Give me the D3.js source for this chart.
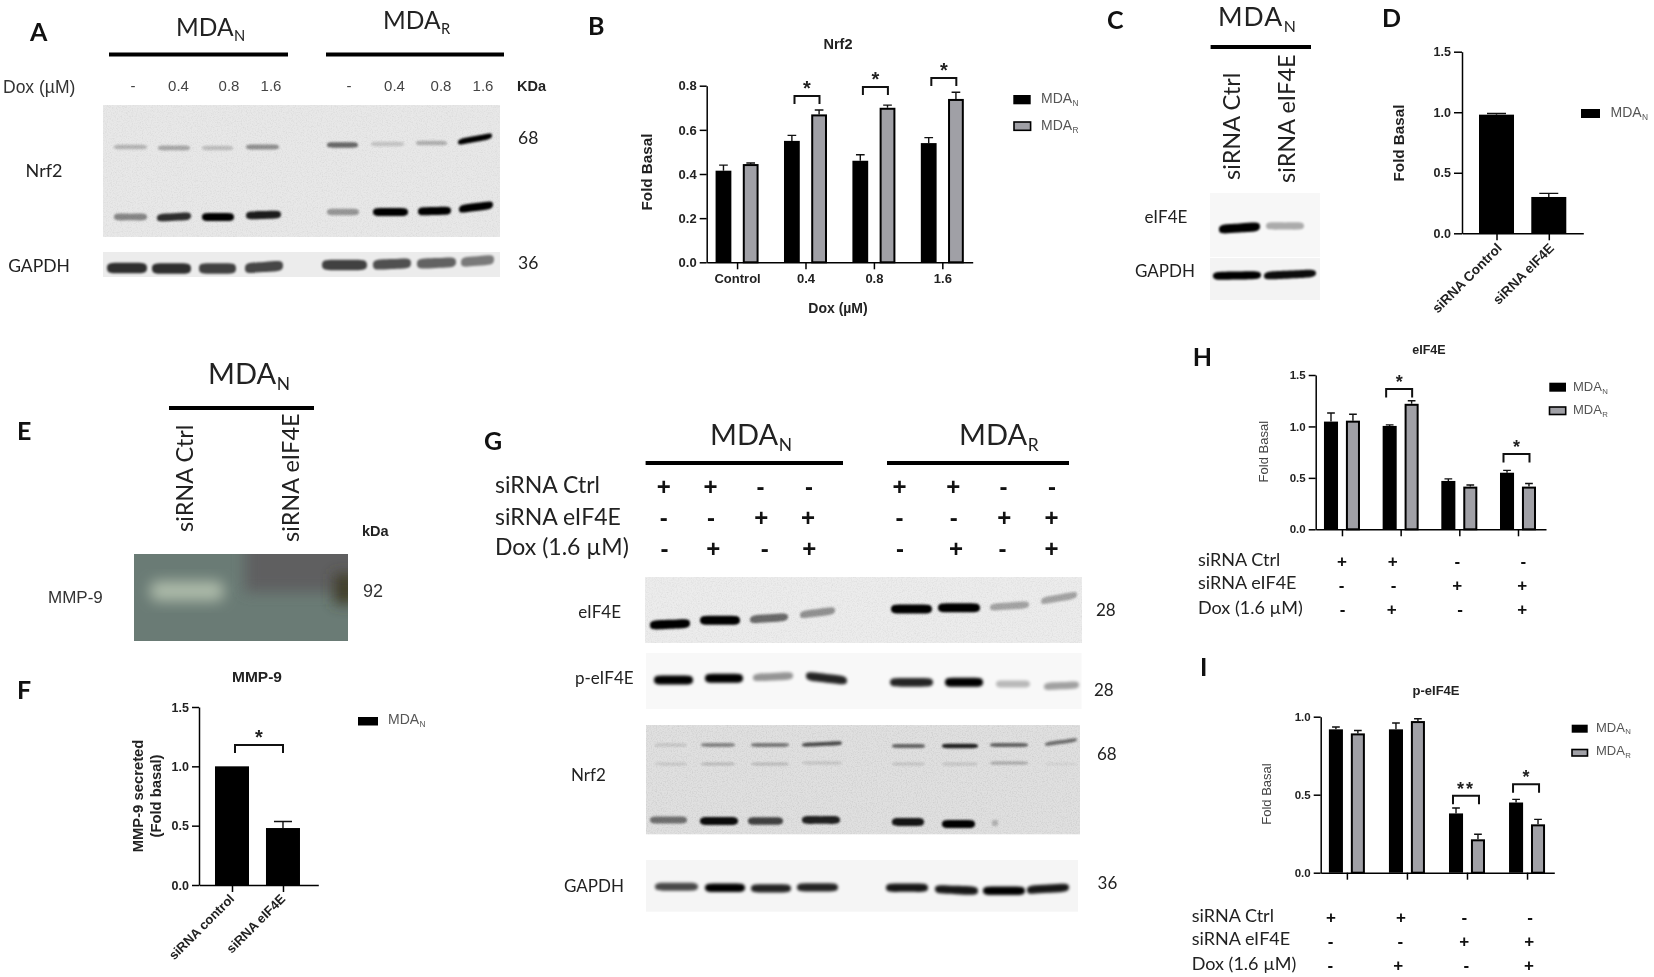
<!DOCTYPE html>
<html><head><meta charset="utf-8">
<script src="https://cdn.jsdelivr.net/npm/d3@7/dist/d3.min.js"></script>
<style>
html,body{margin:0;padding:0;background:#fff}
svg{display:block;filter:blur(0.35px)}
</style></head><body>
<svg id="fig" width="1654" height="977"></svg>
<script>
// ---------- DATA: bar charts (value, upper error limit) ----------
const nrf2Cats = ["Control","0.4","0.8","1.6"];
const nrf2N = [0.415,0.55,0.46,0.54];
const nrf2NErr = [0.44,0.575,0.487,0.565];
const nrf2R = [0.445,0.67,0.70,0.74];
const nrf2RErr = [0.45,0.69,0.712,0.77];
const nrf2Sig = [null,"*","*","*"];
const nrf2SigY = [null,0.753,0.794,0.835];

const eifCats = ["siRNA Control","siRNA eIF4E"];
const eifVals = [0.98,0.30];
const eifErr = [0.99,0.33];

const mmpCats = ["siRNA control","siRNA eIF4E"];
const mmpVals = [1.0,0.48];
const mmpErr = [1.0,0.535];
const mmpSigY = 1.18;

const comboCats = ["g1","g2","g3","g4"];
const hN = [1.047,1.005,0.47,0.55];
const hNErr = [1.13,1.015,0.49,0.573];
const hR = [1.056,1.22,0.415,0.415];
const hRErr = [1.118,1.25,0.43,0.445];
const hSig = [null,"*",null,"*"];
const hSigY = [null,1.363,null,0.732];

const iN = [0.919,0.919,0.38,0.45];
const iNErr = [0.934,0.96,0.415,0.47];
const iR = [0.893,0.972,0.214,0.31];
const iRErr = [0.912,0.987,0.246,0.342];
const iSig = [null,null,"**","*"];
const iSigY = [null,null,0.493,0.567];

// ---------- DATA: treatment tables ----------
const tableLabels = ["siRNA Ctrl","siRNA eIF4E","Dox (1.6 µM)"];
const tableSigns4 = [["+","+","-","-"],["-","-","+","+"],["-","+","-","+"]];
const tableSigns8 = [["+","+","-","-","+","+","-","-"],["-","-","+","+","-","-","+","+"],["-","+","-","+","-","+","-","+"]];
const doseLabels = ["-","0.4","0.8","1.6","-","0.4","0.8","1.6"];

// ---------- DATA: blot band intensities (0-1) per lane ----------
const aNrf2Upper = [0.22,0.28,0.18,0.38,0.55,0.15,0.24,1];
const aNrf2Lower = [0.42,0.8,1,0.88,0.35,1,1,1];
const aGapdh = [0.8,0.8,0.72,0.7,0.72,0.66,0.58,0.48];
const cEif = [1,0.3];
const cGapdh = [1,0.95];
const gEif = [1,1,0.55,0.38,1,1,0.3,0.3];
const gPEif = [1,1,0.4,0.85,0.85,1,0.25,0.35];
const gNrf2Upper = [0.12,0.4,0.45,0.65,0.55,0.85,0.55,0.5];
const gNrf2Mid = [0.1,0.16,0.16,0.12,0.12,0.12,0.25,0.06];
const gNrf2Lower = [0.5,0.95,0.7,0.85,0.9,1,0.2,0];
const gGapdh = [0.7,1,0.85,0.85,0.9,0.9,1,0.9];

// ---------- LAYOUT ----------
const LATO = "Lato, 'Open Sans', sans-serif";
const ARIAL = "'Liberation Sans', Arial, sans-serif";
const BLACK = "#000", GREY = "#a0a0a6";

const svg = d3.select("#fig");
const defs = svg.append("defs");
const blur = (id,s)=>defs.append("filter").attr("id",id).attr("x","-30%").attr("y","-150%").attr("width","160%").attr("height","400%")
  .append("feGaussianBlur").attr("stdDeviation",s);
blur("b1",1.1); blur("b2",1.7);
const bigB = defs.append("filter").attr("id","b6").attr("x","-60%").attr("y","-60%").attr("width","220%").attr("height","220%");
bigB.append("feGaussianBlur").attr("stdDeviation",7);
function noiseFilter(id,alpha){
  const f = defs.append("filter").attr("id",id).attr("x","0").attr("y","0").attr("width","100%").attr("height","100%");
  f.append("feTurbulence").attr("type","fractalNoise").attr("baseFrequency",0.8).attr("numOctaves",2).attr("seed",4).attr("result","n");
  f.append("feColorMatrix").attr("in","n").attr("type","matrix")
   .attr("values",`0 0 0 0 0.4  0 0 0 0 0.4  0 0 0 0 0.4  ${alpha} 0 0 0 ${-alpha*0.42}`).attr("result","g");
  f.append("feGaussianBlur").attr("in","g").attr("stdDeviation",0.6).attr("result","gb");
  f.append("feComposite").attr("in","gb").attr("in2","SourceGraphic").attr("operator","in").attr("result","c");
  const m=f.append("feMerge"); m.append("feMergeNode").attr("in","SourceGraphic"); m.append("feMergeNode").attr("in","c");
}
noiseFilter("noise",0.55); noiseFilter("noiseStrong",0.8);

function label(x,y,t,o={}){
  return svg.append("text").attr("x",x).attr("y",y).text(t)
    .attr("font-family",o.font||LATO).attr("font-size",o.size||18).attr("font-weight",o.weight||400)
    .attr("fill",o.fill||"#222").attr("text-anchor",o.anchor||"start");
}
function panelLetter(x,y,t){ label(x,y,t,{size:25,weight:700,fill:"#111"}); }
function subText(x,y,main,sub,size,o={}){
  const t = label(x,y,main,Object.assign({size},o));
  t.append("tspan").attr("dy",size*0.2).attr("dx",size*0.02).attr("font-size",size*0.6).text(sub);
  return t;
}
function rule(x0,x1,y){ svg.append("rect").attr("x",x0).attr("y",y-2).attr("width",x1-x0).attr("height",4).attr("fill","#000"); }
function vtext(x,y,t,size){ label(0,0,t,{size,fill:"#222"}).attr("transform",`translate(${x},${y}) rotate(-90)`); }

// ---------- blots ----------
function blotBg(x0,x1,y0,y1,fill,noise){
  const r = svg.append("rect").attr("x",x0).attr("y",y0).attr("width",x1-x0).attr("height",y1-y0).attr("fill",fill);
  if(noise) r.attr("filter",`url(#${noise})`);
}
// lanes: [start,end] per lane; ys: y per lane; tilt: rise per lane
function bandPath(a,b,y,h,t){
  const w=b-a, m=(a+b)/2, yl=y+t/2, yr=y-t/2;
  return `M${a},${yl}C${a},${yl-h*0.6} ${a+w*0.12},${y-h/2+t*0.3} ${m},${y-h/2}`
    +`C${b-w*0.12},${y-h/2-t*0.3} ${b},${yr-h*0.6} ${b},${yr}`
    +`C${b},${yr+h*0.6} ${b-w*0.12},${y+h/2-t*0.3} ${m},${y+h/2}`
    +`C${a+w*0.12},${y+h/2+t*0.3} ${a},${yl+h*0.6} ${a},${yl}Z`;
}
function bands(values,lanes,ys,th,tilts,filter){
  svg.append("g").selectAll("path").data(values.map((v,i)=>({v,i})).filter(d=>d.v>0)).join("path")
    .attr("d",d=>bandPath(lanes[d.i][0],lanes[d.i][1],ys[d.i],th*(0.55+0.45*Math.sqrt(d.v)),tilts?tilts[d.i]:0))
    .attr("fill","#000")
    .attr("opacity",d=>d.v)
    .attr("filter",`url(#${filter||"b1"})`);
}

// ---------- bar charts ----------
function barChart(c){
  const g = svg.append("g");
  const x = d3.scalePoint().domain(c.cats).range([c.x0,c.x1]).padding(c.pad).align(c.align===undefined?0.5:c.align);
  const y = d3.scaleLinear().domain([0,c.yMax]).range([c.y0,c.yTop]);
  const off = d3.scaleBand().domain(d3.range(c.series.length)).range(c.series.length>1?[-c.spread,c.spread]:[-c.bw/2,c.bw/2]).paddingInner(c.series.length>1?c.inner:0);
  c.series.forEach((s,si)=>{
    const bw = off.bandwidth();
    const cx = d=>x(d.c)+off(si)+bw/2;
    const rows = c.cats.map((cat,i)=>({c:cat,v:s.vals[i],e:s.err[i]}));
    const sw = s.fill===BLACK?0:2;
    g.append("g").selectAll("rect").data(rows).join("rect")
      .attr("x",d=>x(d.c)+off(si)+sw/2).attr("width",bw-sw)
      .attr("y",d=>y(d.v)+sw/2).attr("height",d=>y(0)-y(d.v)-sw/2)
      .attr("fill",s.fill).attr("stroke",sw?"#000":"none").attr("stroke-width",sw);
    const capW = Math.min(bw*0.55,c.capMax||99);
    const errs = rows.filter(d=>d.e>d.v);
    g.append("g").selectAll("path").data(errs).join("path")
      .attr("d",d=>`M${cx(d)},${y(d.v)}V${y(d.e)}M${cx(d)-capW/2},${y(d.e)}H${cx(d)+capW/2}`)
      .attr("fill","none").attr("stroke","#111").attr("stroke-width",1.4);
  });
  const ax = g.append("g").attr("transform",`translate(0,${c.y0})`)
    .call(d3.axisBottom(x).tickSize(7).tickSizeOuter(0).tickPadding(c.xPad||6).tickFormat(c.hideX?"":(d=>d)));
  const ay = g.append("g").attr("transform",`translate(${c.x0},0)`)
    .call(d3.axisLeft(y).tickValues(c.ticks).tickSize(c.tickLen||7).tickSizeOuter(0).tickPadding(3).tickFormat(d3.format(".1f")));
  [ax,ay].forEach(a=>{
    a.selectAll("path,line").attr("stroke","#000").attr("stroke-width",1.5);
    a.selectAll("text").attr("font-family",ARIAL).attr("font-weight",700).attr("fill","#222").attr("font-size",c.tickSize);
  });
  if(c.rotate) ax.selectAll("text").attr("text-anchor","end").attr("dy",null).attr("dx",null)
    .attr("transform",`translate(${c.rotDx},${c.rotDy}) rotate(-45)`).attr("y",8).attr("x",0).attr("font-size",c.catSize);
  if(c.title) label(c.titleX,c.titleY,c.title,{font:ARIAL,weight:700,size:c.titleSize,anchor:"middle",fill:"#222"});
  (c.yLabel||[]).forEach((t,i)=>{
    label(0,0,t,{font:ARIAL,weight:c.yWeight||700,size:c.ySize,anchor:"middle",fill:c.yWeight===400?"#444":"#222"})
      .attr("transform",`translate(${c.yLabelX[i]},${c.yLabelY}) rotate(-90)`);
  });
  (c.sig||[]).forEach((s,i)=>{
    if(!s) return;
    const cat=c.sigCat?c.sigCat[i]:c.cats[i];
    const top=y(c.sigY[i]);
    const a=x(cat)+c.sigA, b=x(cat)+c.sigB;
    g.append("path").attr("d",`M${a},${top+c.sigDrop}V${top}H${b}V${top+c.sigDrop}`)
      .attr("fill","none").attr("stroke","#111").attr("stroke-width",2);
    const tx=label((a+b)/2,top-1,s,{font:ARIAL,weight:700,size:c.starSize||20,anchor:"middle",fill:"#222"});
    if(s.length>1) tx.attr("letter-spacing",2);
  });
  (c.legend||[]).forEach(l=>{
    g.append("rect").attr("x",l.x).attr("y",l.y).attr("width",l.w).attr("height",l.h)
      .attr("fill",l.fill).attr("stroke","#000").attr("stroke-width",l.fill===BLACK?0:1.6);
    subText(l.tx,l.ty,"MDA",l.sub,l.size,{font:ARIAL,fill:"#555"});
  });
}

// ---------- sign tables ----------
function signTable(labels,signs,labelX,labelYs,rowYs,colX,labelSize,signSize){
  labels.forEach((t,i)=>label(labelX,labelYs[i],t,{size:labelSize,fill:"#222"}));
  signs.forEach((row,r)=>{
    svg.append("g").selectAll("text").data(row).join("text")
      .attr("x",(d,i)=>colX[r][i]).attr("y",rowYs[r]).attr("dy","0.36em").attr("text-anchor","middle")
      .attr("font-family",ARIAL).attr("font-weight",700).attr("font-size",signSize).attr("fill","#111")
      .text(d=>d);
  });
}

// ===== Panel A =====
panelLetter(30,41,"A");
subText(176,36,"MDA","N",24.5,{fill:"#222"});
subText(383,29,"MDA","R",24.5,{fill:"#222"});
rule(109,288,54.5); rule(326,504,54.5);
label(3,93,"Dox (µM)",{font:ARIAL,size:17.5,fill:"#333"});
const aDoseX=[133,178.5,229,271,349,394.5,441,483];
svg.append("g").selectAll("text").data(doseLabels).join("text")
  .attr("x",(d,i)=>aDoseX[i]).attr("y",91).attr("text-anchor","middle").attr("font-family",ARIAL)
  .attr("font-size",15).attr("fill","#444").text(d=>d);
label(517,91,"KDa",{font:ARIAL,weight:700,size:14.5,fill:"#222"});
blotBg(103,500,105,237,"#e8e8e8","noise");
const aUpLanes=[[114,147],[158,190],[202,233],[246,279],[327,358],[371,404],[416,447],[458,492]];
const aLoLanes=[[114,147],[157,191],[202,234],[246,281],[327,359],[373,408],[418,451],[459,493]];
bands(aNrf2Upper,aUpLanes,[147,148,148,147,145,144,143,139],6,[0,0,0,0,0,0,0,7]);
bands(aNrf2Lower,aLoLanes,[217,217,217,215,212,212,211,207],8,[0,2,0,1,0,0,1,5]);
blotBg(103,500,252,277,"#ececec");
bands(aGapdh,[[107,147],[152,191],[199,236],[245,283],[322,367],[373,411],[417,456],[461,494]],[268,268.5,268.5,267,265,264,263,261],11,[0,0,0,3,0,2,2,3],"b1");
label(44,177,"Nrf2",{size:18,anchor:"middle"});
label(39,272,"GAPDH",{size:17.5,anchor:"middle"});
label(518,144,"68",{size:17.5}); label(518,269,"36",{size:17.5});

// ===== Panel B =====
panelLetter(588,35,"B");
barChart({cats:nrf2Cats,x0:706.7,x1:972.7,y0:262.3,yTop:85.7,yMax:0.8,ticks:[0,0.2,0.4,0.6,0.8],pad:0.444,
  spread:21.5,inner:0.42,bw:17,
  series:[{vals:nrf2N,err:nrf2NErr,fill:BLACK},{vals:nrf2R,err:nrf2RErr,fill:GREY}],
  tickSize:13,xPad:4,title:"Nrf2",titleX:838,titleY:49,titleSize:14.5,
  yLabel:["Fold Basal"],yLabelX:[652],yLabelY:172,ySize:15.2,
  sig:nrf2Sig,sigY:nrf2SigY,sigA:-11,sigB:14,sigDrop:8,
  legend:[{x:1013.3,y:95,w:17.4,h:9.3,fill:BLACK,tx:1041,ty:102.7,sub:"N",size:14},
          {x:1014,y:122,w:16.6,h:8.3,fill:GREY,tx:1041,ty:130,sub:"R",size:14}]});
label(838,313,"Dox (µM)",{font:ARIAL,weight:700,size:14,anchor:"middle"});

// ===== Panel C =====
panelLetter(1107,29,"C");
subText(1218,26.3,"MDA","N",26.5).attr("letter-spacing",1);
rule(1210.6,1311,47);
vtext(1239.6,180,"siRNA Ctrl",23.5);
vtext(1295.4,183,"siRNA eIF4E",23.5);
blotBg(1210,1320,193,257,"#f7f7f7");
bands(cEif,[[1219,1260],[1266,1304]],[228,226],9,[3,0],"b1");
blotBg(1210,1320,258,300,"#f3f3f3");
bands(cGapdh,[[1213,1261],[1264,1316]],[275.5,274.5],8,[1,3],"b1");
label(1166,223,"eIF4E",{size:17,anchor:"middle"});
label(1165,277,"GAPDH",{size:17,anchor:"middle"});

// ===== Panel D =====
panelLetter(1382,27,"D");
barChart({cats:eifCats,x0:1462,x1:1583.3,y0:233.3,yTop:51.7,yMax:1.5,ticks:[0,0.5,1,1.5],pad:0.66,bw:35,
  series:[{vals:eifVals,err:eifErr,fill:BLACK}],capMax:19,tickSize:12.5,tickLen:8,rotate:true,catSize:13.5,rotDx:0,rotDy:10,
  yLabel:["Fold Basal"],yLabelX:[1404],yLabelY:143,ySize:15.2,
  legend:[{x:1581,y:109,w:19,h:9,fill:BLACK,tx:1610.5,ty:117,sub:"N",size:14}]});

// ===== Panel E =====
panelLetter(17,440,"E");
subText(208,384,"MDA","N",29);
rule(169,314,408);
vtext(193,532,"siRNA Ctrl",23.5);
vtext(299,542,"siRNA eIF4E",23.5);
label(362,536,"kDa",{font:ARIAL,weight:700,size:14.5});
const eClip = defs.append("clipPath").attr("id","eclip");
eClip.append("rect").attr("x",134).attr("y",554).attr("width",214).attr("height",87);
const eG = svg.append("g").attr("clip-path","url(#eclip)");
eG.append("rect").attr("x",134).attr("y",554).attr("width",214).attr("height",87).attr("fill","#6a7b75");
eG.append("rect").attr("x",245).attr("y",520).attr("width",130).attr("height",72).attr("fill","#5e5f61").attr("filter","url(#b6)");
eG.append("rect").attr("x",334).attr("y",574).attr("width",22).attr("height",30).attr("fill","#403c2c").attr("filter","url(#b6)");
eG.append("rect").attr("x",150).attr("y",581).attr("width",74).attr("height",20).attr("rx",8).attr("fill","#aebcaa").attr("filter","url(#b6)");
label(48,603,"MMP-9",{font:ARIAL,size:17,fill:"#333"});
label(363,597,"92",{font:ARIAL,size:18,fill:"#333"});

// ===== Panel F =====
panelLetter(17,699,"F");
barChart({cats:mmpCats,x0:199,x1:318.3,y0:885,yTop:707,yMax:1.5,ticks:[0,0.5,1,1.5],pad:0.67,align:0.483,bw:34,
  series:[{vals:mmpVals,err:mmpErr,fill:BLACK}],capMax:18,tickSize:12.5,rotate:true,catSize:13,rotDx:-3,rotDy:9,
  title:"MMP-9",titleX:257,titleY:682,titleSize:15.5,
  yLabel:["MMP-9 secreted","(Fold basal)"],yLabelX:[143,161],yLabelY:796,ySize:14.8,
  sig:["*",null],sigCat:[mmpCats[0]],sigY:[mmpSigY],sigA:3,sigB:51,sigDrop:8,
  legend:[{x:358,y:717,w:20,h:8.5,fill:BLACK,tx:388,ty:724,sub:"N",size:14}]});

// ===== Panel G =====
panelLetter(484,450,"G");
subText(710,445,"MDA","N",29);
subText(959,445,"MDA","R",29);
rule(645.6,843,463); rule(887,1069,463);
signTable(tableLabels,tableSigns8,495,[493,525,555],[486.7,517.7,548],
  [[663.7,710.4,760.5,809,899.4,953.3,1003.4,1052],[663.7,711,761.3,808,899.4,953.7,1004.3,1051.6],[664.5,713.3,764.7,809.3,900,956,1002.6,1051.6]],23,24);
blotBg(645,1082,577,643,"#ececec","noise");
bands(gEif,[[650,690],[700,740],[750,788],[800,835],[891,932],[938,980],[990,1029],[1041,1077]],
  [624.3,620.3,618.3,612.7,609,607.7,606,598],9,[2,0,3,5,0,0,3,7],"b1");
label(621,618,"eIF4E",{size:17,anchor:"end"});
label(1096,616,"28",{size:17});
blotBg(646,1081.5,653,709,"#f8f8f8");
bands(gPEif,[[654,693],[705,743],[753,793],[806,847],[890,933],[945,983],[996,1030],[1044,1079]],
  [680,678.3,676.7,678.3,682.3,682.3,684,685.7],9,[0,0,2,-5,0,0,0,2],"b2");
label(575,684,"p-eIF4E",{size:17});
label(1094,695.7,"28",{size:17});
blotBg(646,1080,725,834.3,"#e0e0e0","noiseStrong");
const gUp=[[655,687],[701,735],[751,789],[802,842],[892,925],[942,978],[990,1028],[1045,1077]];
bands(gNrf2Upper,gUp,[745,745,745,744,746,746,745,742],4.5,[0,0,0,2,0,0,0,5]);
bands(gNrf2Mid,gUp,[764,764,764,763,764,764,763,764],4,[0,0,0,0,0,0,0,0]);
bands(gNrf2Lower,[[650,687],[700,738],[748,783],[802,840],[892,924],[942,975],[992,998],[1050,1060]],
  [820,821,821,820,822,824,823,822],8,[0,0,0,0,0,0,0,0]);
label(571,780.7,"Nrf2",{size:17});
label(1097,760,"68",{size:17});
blotBg(646,1078,860,911.7,"#f5f5f5");
bands(gGapdh,[[655,698],[705,745],[751,791],[797,838],[886,928],[935,978],[983,1025],[1027,1069]],
  [886.7,887.7,888.3,887.3,887.7,890,890.7,888.7],8.5,[0,0,0,0,0,-2,0,3],"b2");
label(564,892.3,"GAPDH",{size:17});
label(1097.6,889,"36",{size:17});

// ===== Panel H =====
panelLetter(1192.7,366,"H");
barChart({cats:comboCats,x0:1315.7,x1:1546,y0:529.3,yTop:375,yMax:1.5,ticks:[0,0.5,1,1.5],pad:0.4625,align:0.484,
  spread:18,inner:0.36,bw:14.5,hideX:true,
  series:[{vals:hN,err:hNErr,fill:BLACK},{vals:hR,err:hRErr,fill:GREY}],tickSize:11.5,
  title:"eIF4E",titleX:1429,titleY:354,titleSize:12.5,
  yLabel:["Fold Basal"],yLabelX:[1268],yLabelY:451.7,ySize:13,yWeight:400,
  sig:hSig,sigY:hSigY,sigA:-14.5,sigB:11.5,sigDrop:8.5,starSize:18,
  legend:[{x:1549.3,y:382.7,w:16.7,h:9,fill:BLACK,tx:1573,ty:391,sub:"N",size:13},
          {x:1549.5,y:407,w:16.2,h:7.5,fill:GREY,tx:1573,ty:414,sub:"R",size:13}]});
signTable(tableLabels,tableSigns4,1198,[566,589,614],[561,585,609.3],
  [[1342,1392.7,1457.3,1523.3],[1341.7,1393.7,1457.3,1522.3],[1342.7,1391.7,1460,1522.3]],18,17);

// ===== Panel I =====
panelLetter(1200,676,"I");
barChart({cats:comboCats,x0:1320.7,x1:1554.3,y0:872.7,yTop:716.7,yMax:1.0,ticks:[0,0.5,1],pad:0.445,align:0.49,
  spread:18,inner:0.36,bw:14.5,hideX:true,
  series:[{vals:iN,err:iNErr,fill:BLACK},{vals:iR,err:iRErr,fill:GREY}],tickSize:11.5,
  title:"p-eIF4E",titleX:1436,titleY:695,titleSize:13,
  yLabel:["Fold Basal"],yLabelX:[1271],yLabelY:794,ySize:13,yWeight:400,
  sig:iSig,sigY:iSigY,sigA:-14,sigB:12,sigDrop:8.5,starSize:18,
  legend:[{x:1571.7,y:724.7,w:16,h:8,fill:BLACK,tx:1596,ty:731.7,sub:"N",size:13},
          {x:1572,y:749.5,w:15.5,h:6.5,fill:GREY,tx:1596,ty:755,sub:"R",size:13}]});
signTable(tableLabels,tableSigns4,1191.7,[921.7,945,970],[916.7,940.7,965],
  [[1331,1401,1464.3,1530],[1330.7,1400.3,1464.3,1529.3],[1330.3,1398.3,1466.3,1529]],18,17);
</script>
</body></html>
